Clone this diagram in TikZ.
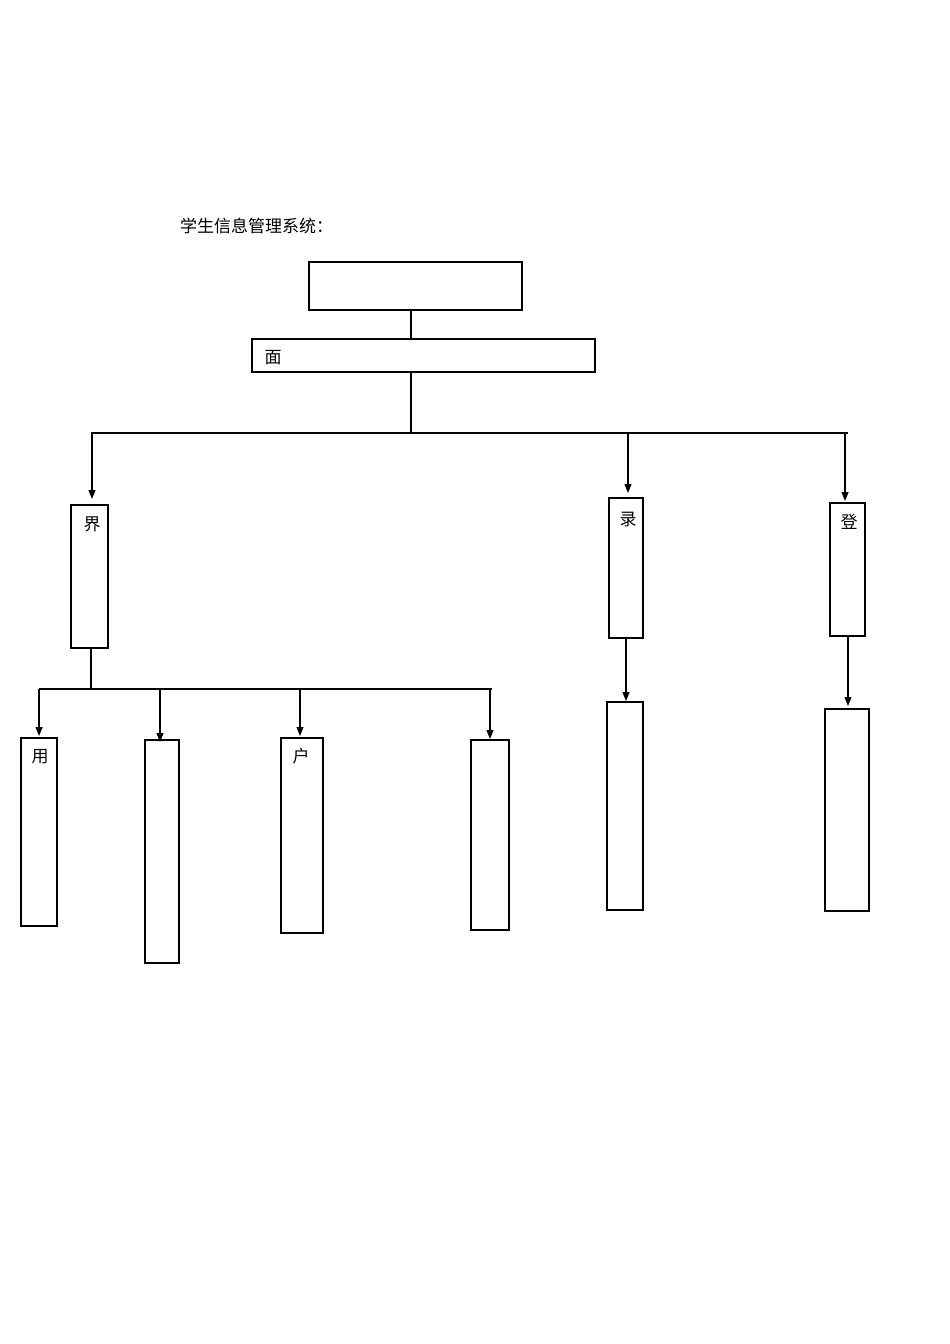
\documentclass[tikz,border=0pt]{standalone}
\usepackage{fontspec}
\newfontfamily\cjk{Noto Sans CJK SC}
\usetikzlibrary{arrows.meta}
\begin{document}
\begin{tikzpicture}[x=1pt,y=-1pt,
  bx/.style={draw,line width=1.2pt},
  lbl/.style={font=\cjk\fontsize{17}{19}\selectfont,inner sep=0pt},
  arr/.style={line width=1.3pt,-{Triangle[length=9pt,width=7pt]}},
  ln/.style={line width=1.3pt}]
\useasboundingbox[fill=white] (0,0) rectangle (950,1344);
\node[lbl,anchor=west] (title) at (180,226) {学生信息管理系统：};
\draw[bx] (309,262) rectangle (522,310);
\draw[line width=2.2pt] (522,262)--(522,310)--(309,310);
\coordinate (topb) at (411,310);
\draw[bx] (252,339) rectangle (595,372);
\node[lbl] (mian) at (273,358) {面};
\draw[ln] (topb)--(411,339);
\draw[ln] (406,339)--(416,339);
\coordinate (hl) at (91,433); \coordinate (hr) at (848,433);
\draw[ln] (411,372)--(411,433);
\draw[ln] (hl)--(hr);
\coordinate (a1) at (92,433); \coordinate (a2) at (628,433); \coordinate (a3) at (845,433);
\draw[arr] (a1)--(92,499);
\draw[arr] (a2)--(628,493);
\draw[arr] (a3)--(845,501);
\draw[bx] (71,505) rectangle (108,648);
\draw[line width=2.2pt] (71,505)--(71,648);
\node[lbl] (jie) at (92,524) {界};
\draw[bx] (609,498) rectangle (643,638);
\draw[line width=2.2pt] (609,498)--(609,638);
\node[lbl] (lu) at (628,519) {录};
\draw[bx] (830,503) rectangle (865,636);
\draw[line width=2.2pt] (830,503)--(830,636);
\node[lbl] (deng) at (849,522) {登};
\draw[ln] (91,648)--(91,689);
\draw[ln] (39,689)--(492,689);
\draw[arr] (39,689)--(39,736);
\draw[arr] (160,689)--(160,742);
\draw[arr] (300,689)--(300,736);
\draw[arr] (490,689)--(490,739);
\draw[bx] (21,738) rectangle (57,926);
\draw[line width=2.2pt] (21,926)--(57,926);
\node[lbl] (yong) at (40,757) {用};
\draw[bx] (145,740) rectangle (179,963);
\draw[bx] (281,738) rectangle (323,933);
\node[lbl] (hu) at (301,756) {户};
\draw[bx] (471,740) rectangle (509,930);
\draw[arr] (626,638)--(626,701);
\draw[bx] (607,702) rectangle (643,910);
\draw[arr] (848,636)--(848,706);
\draw[bx] (825,709) rectangle (869,911);
\end{tikzpicture}
\end{document}
